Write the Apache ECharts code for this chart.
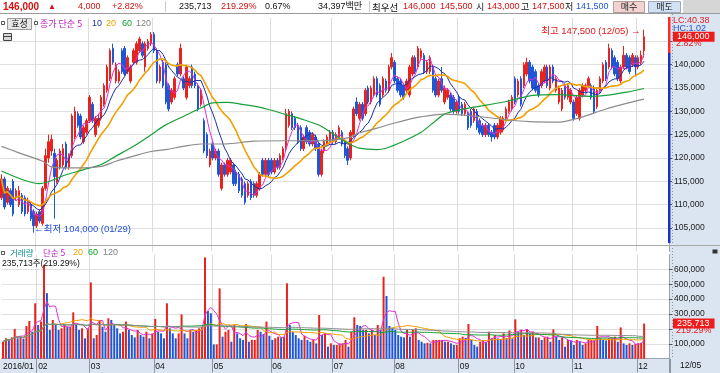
<!DOCTYPE html>
<html><head><meta charset="utf-8">
<script src="https://cdn.jsdelivr.net/npm/echarts@6/dist/echarts.min.js"></script>
<style>html,body{margin:0;padding:0;background:#fff}#c{width:720px;height:373px}</style>
</head><body><div id="c"></div>
<script>
// ---- trading days shown (2016/01/14 .. 2016/12/05) ----
const janDays=[14,15,18,19,20,21,22,25,26,27,28,29];
const febDays=[1,2,3,4,5,11,12,15,16,17,18,19,22,23,24,25,26,29];
const marDays=[2,3,4,7,8,9,10,11,14,15,16,17,18,21,22,23,24,25,28,29,30,31];
const aprDays=[1,4,5,6,7,8,11,12,14,15,18,19,20,21,22,25,26,27,28,29];
const mayDays=[2,3,4,9,10,11,12,13,16,17,18,19,20,23,24,25,26,27,30,31];
const junDays=[1,2,3,7,8,9,10,13,14,15,16,17,20,21,22,23,24,27,28,29,30];
const julDays=[1,4,5,6,7,8,11,12,13,14,15,18,19,20,21,22,25,26,27,28,29];
const augDays=[1,2,3,4,5,8,9,10,11,12,16,17,18,19,22,23,24,25,26,29,30,31];
const sepDays=[1,2,5,6,7,8,9,12,13,19,20,21,22,23,26,27,28,29,30];
const octDays=[4,5,6,7,10,11,12,13,14,17,18,19,20,21,24,25,26,27,28,31];
const novDays=[1,2,3,4,7,8,9,10,11,14,15,16,17,18,21,22,23,24,25,28,29,30];
const decDays=[1,2,5];
const monthDays=[janDays,febDays,marDays,aprDays,mayDays,junDays,julDays,augDays,sepDays,octDays,novDays,decDays];
const monthTickLabels=['2016/01','02','03','04','05','06','07','08','09','10','11','12'];
const emptySlots=8;

// ---- prices (won) ----
const opens=[
111500,115500,110500,113000,115000,111500,110000,112000,111500,108500,
110000,108500,105500,108500,106000,113500,120000,121500,121000,115000,
118000,118500,123000,118000,120500,124500,129500,129000,123500,125500,
128000,131500,125000,127000,128500,131500,134500,137000,143500,136500,
136500,143000,143500,138500,136500,140500,140500,143000,144500,139500,
143500,144500,146500,143000,136500,140500,140000,135500,132000,133000,
140000,138000,137000,133000,135500,139500,138000,135500,131500,128000,
125000,118500,123000,120000,121500,113500,118500,116500,117000,118500,
117000,116500,115500,114500,112000,115000,114500,112000,113500,119500,
116500,119500,119500,117000,119500,118000,120000,122000,127000,129500,
128500,127000,126500,122000,126500,125500,123000,124500,123000,116500,
121500,123000,123500,125500,123500,124500,125500,123500,122000,120000,
125000,132000,128500,131500,129500,135000,132000,133500,137000,135500,
133500,136500,134500,139500,140500,137000,136500,135500,134500,133500,
138000,141500,139500,141500,142000,138500,138500,139500,137000,133500,
137000,132000,133000,133500,133000,130000,133000,131500,129500,129500,
130000,128000,130000,128000,127000,125000,127000,125500,127000,124500,
125500,126000,128500,130000,130500,137000,133500,137000,135500,138000,
140500,139500,138500,135500,135500,136500,139500,135000,139500,134500,
132000,130500,135500,133000,132000,132000,129500,128500,133500,134500,
135500,135500,135000,131000,134500,136500,140500,139500,143000,141500,
140500,136500,139500,142000,141500,140000,141500,139500,140500,143000];
const closes=[
115500,109500,113500,110000,108000,113000,113000,108500,108000,110500,
107000,105500,108000,106500,113500,120500,123500,124000,116000,119500,
121500,122000,118000,120500,129000,130000,127000,124500,126500,128000,
133000,128000,128500,128500,133000,135500,139500,143000,140500,140000,
138500,138500,138000,141500,139500,143000,144500,145500,142000,144500,
145000,146500,143000,136500,139500,135500,132000,130500,134500,137000,
138000,143500,135000,139500,137000,135500,135500,130500,134500,121500,
120500,121500,120000,121500,116500,118500,116500,119500,119500,114500,
114500,113000,112000,110500,114500,111500,112000,114500,116500,116500,
119500,116500,117000,119500,118000,120500,122000,129500,130000,126500,
126500,123500,122000,124500,123500,123000,125000,122000,116500,121500,
123500,124500,125500,123500,125000,126500,123000,120500,119500,125500,
130500,129500,131500,128500,134500,132000,135000,137000,133500,131500,
137000,134500,139500,141500,136500,134500,133500,133000,136500,139500,
141500,138500,143500,143000,138500,140500,141500,134500,133500,136500,
134500,135000,134500,130500,130000,132000,130000,129500,131500,126500,
127000,130500,126500,125500,125000,127000,125000,124500,124500,127000,
128500,128500,130500,132000,133000,132000,136500,131500,140000,140500,
136500,135000,134500,133500,138500,139500,135500,139500,136500,137000,
135000,134500,133000,135500,134500,128500,133000,134500,135500,135500,
137000,133000,130000,134500,137000,140000,137000,143500,139500,138000,
137000,139500,142000,139500,138500,142000,139500,141500,142000,146000];
const lows=[
111000,109000,110000,109500,107500,111000,109500,108000,107500,108000,
106500,104000,105000,106000,105500,113000,119000,120500,107000,114500,
117500,118000,117500,117500,120000,124000,126500,124000,123000,125000,
127500,127500,124500,126500,128000,131000,134000,136500,140000,136000,
136000,138000,137500,138000,136000,140000,140000,142500,141500,138500,
143000,144000,142500,136000,136000,135000,131500,130000,131500,132500,
137500,137500,134500,132500,135000,135000,135000,130000,131000,121000,
120000,118000,119500,119500,116000,113000,116000,116000,116500,114000,
114000,112500,111500,110000,111500,111000,111500,111500,113000,116000,
116000,116000,116500,116500,117500,117500,119500,121500,126500,126000,
126000,123000,121500,121500,123000,122500,122500,121500,116000,116000,
121000,122500,123000,123000,123000,124000,122500,120000,118500,119500,
124500,129000,128000,128000,129000,131500,131500,133000,133000,131000,
133000,134000,134000,139000,136000,134000,133000,132500,134000,133000,
137500,138000,139000,141000,138000,138000,138000,134000,133000,133000,
134000,131500,132500,130000,129500,129500,129500,129000,129000,126000,
126500,127500,126000,125000,124500,124500,124500,123500,124000,124000,
125000,125500,128000,129500,130000,131500,133000,131000,135000,137500,
136000,134500,134000,133000,135000,136000,135000,134500,136000,134000,
131500,130000,132500,132500,131500,128000,129000,128000,133000,134000,
135000,132500,129500,130500,134000,136000,136500,139000,139000,137500,
136500,136000,139000,139000,138000,139500,137500,139000,140000,141500];
const highs=[
116500,116000,114000,113500,115500,113500,114000,112500,112000,111500,
110500,109000,108500,109000,114000,122000,125000,125000,122000,120000,
122000,123000,123500,121000,129500,131000,130000,129500,127000,128500,
133500,132000,129000,129500,133500,136000,140000,143500,144500,140500,
139000,143500,144000,142000,140000,143500,145000,146000,145000,145000,
145500,147000,147000,143500,140000,141000,140500,136000,135000,137500,
140500,144500,137500,140000,137500,140000,138500,136000,135000,128500,
125500,122000,123500,122000,122000,119000,119000,120000,120000,119000,
117500,117000,116000,115000,115000,115500,115000,115000,117000,120000,
120000,120000,120000,120000,120000,121000,122500,130500,130500,130000,
129000,127500,127000,125000,127000,126000,125500,125000,123500,122000,
124000,125000,126000,126000,125500,127000,126000,124000,122500,126000,
131000,133000,132000,132000,135000,135500,135500,137500,137500,136000,
137500,137000,140000,142500,141000,137500,137000,136000,137000,140000,
142000,142000,144000,143500,142500,141000,142000,140000,137500,137000,
139500,135500,135000,134000,133500,132500,133500,132000,132000,130000,
130500,131000,130500,128500,127500,127500,127500,126000,127500,127500,
129000,129000,131000,132500,133500,137500,137000,137500,140500,141500,
141000,140000,139000,136000,139000,140000,140000,140000,140000,137500,
135500,135000,136000,136000,135000,132500,133500,135000,136000,136000,
137500,136000,135500,135000,137500,140500,141000,144500,143500,142000,
141000,140000,144000,142500,142000,142500,142000,142000,143000,147500];
// ---- volume (shares) ----
const volumes=[
115000,137000,126000,143000,200000,137000,148000,135000,220000,253000,
181000,372000,226000,250000,630000,440000,193000,260000,226000,193000,
204000,226000,215000,215000,311000,226000,193000,204000,137000,204000,
512000,137000,159000,260000,215000,181000,271000,260000,226000,204000,
170000,181000,249000,193000,159000,143000,193000,159000,148000,181000,
137000,170000,267000,181000,170000,137000,372000,204000,170000,137000,
170000,298000,170000,137000,193000,181000,193000,204000,215000,680000,
320000,305000,96000,96000,472000,148000,181000,193000,114000,226000,
170000,137000,126000,233000,114000,126000,126000,193000,181000,165000,
249000,154000,126000,137000,148000,143000,148000,506000,226000,181000,
159000,137000,126000,154000,126000,114000,126000,103000,293000,159000,
170000,81000,103000,92000,92000,103000,103000,126000,81000,181000,
278000,226000,220000,193000,193000,170000,193000,159000,226000,193000,
550000,421000,220000,204000,193000,159000,148000,143000,193000,148000,
193000,204000,126000,114000,103000,107000,103000,126000,126000,126000,
126000,114000,114000,103000,92000,92000,137000,148000,140000,233000,
126000,92000,81000,114000,126000,114000,181000,137000,159000,137000,
133000,170000,137000,190000,137000,264000,181000,193000,159000,197000,
170000,181000,143000,143000,126000,143000,148000,114000,197000,148000,
126000,143000,81000,126000,122000,92000,126000,114000,92000,103000,
126000,126000,126000,220000,137000,126000,122000,137000,143000,148000,
114000,210000,103000,92000,103000,92000,98000,103000,107500,235713];
// ---- long moving averages: [day index, value] ----
const ma60Read=[[0,117200],[7,115400],[13,114500],[22,116400],[28,117500],[34,118600],[39,120400],[45,122500],[51,125000],[56,127100],[62,128900],[68,130700],[72,131800],[77,131900],[81,131600],[86,131100],[91,130400],[97,129300],[103,128200],[109,126800],[114,124700],[118,123200],[122,122100],[128,121800],[131,122100],[137,123600],[143,125500],[148,128000],[151,129400],[156,130300],[161,130900],[172,132100],[181,133400],[189,133600],[201,133200],[206,133400],[213,134100],[219,134900]];
const ma120Read=[[0,122500],[6,121100],[14,119300],[17,118100],[22,117900],[28,117900],[34,118200],[39,119300],[45,120400],[51,121400],[56,121800],[62,122500],[68,123000],[76,123000],[86,123600],[97,123700],[109,123700],[118,124300],[122,125400],[128,126400],[134,127500],[141,128600],[147,129200],[151,129400],[161,129000],[172,128200],[180,127800],[190,127700],[197,128600],[206,130500],[213,131700],[219,132600]];
const lastPrice=146000, lastVolume=235713;

// ---- build ----
const cats=[], monthLabelAt={};
monthDays.forEach((days,m)=>{days.forEach((d,k)=>{if(k===0)monthLabelAt[cats.length]=monthTickLabels[m];cats.push(String(m+1).padStart(2,'0')+'/'+String(d).padStart(2,'0'));});});
for(let k=0;k<emptySlots;k++)cats.push('pad'+k);
function ma(arr,n){return arr.map((_,i)=>{const s=Math.max(0,i-n+1);let t=0;for(let j=s;j<=i;j++)t+=arr[j];return Math.round(t/(i-s+1));});}
const RED='#e8231e', BLUE='#1f56d8';
const candle=opens.map((o,i)=>[o,closes[i],lows[i],highs[i]]);
const volData=volumes.map((v,i)=>({value:v,itemStyle:{color:(i===0||v>=volumes[i-1])?RED:BLUE}}));
const FN="'Liberation Sans','Noto Sans CJK KR',sans-serif";
const FK="'Noto Sans CJK KR',sans-serif";
const fmt=v=>v.toLocaleString('en-US');
const isMonth=i=>monthLabelAt[i]!==undefined;
const T=(x,y,text,fill,size,extra,fam)=>Object.assign({type:'text',x:x,y:y,z:20,style:{text:text,fill:fill,font:(size||9)+'px '+(fam||FN),verticalAlign:'middle',align:'left'}},extra||{});
const R=(x,y,w,h,fill,stroke,z)=>({type:'rect',shape:{x:x,y:y,width:w,height:h},z:z===undefined?-10:z,style:{fill:fill,stroke:stroke||null,lineWidth:1}});
const L=(x1,y1,x2,y2,stroke,z,dash)=>({type:'line',shape:{x1:x1,y1:y1,x2:x2,y2:y2},z:z===undefined?15:z,style:{stroke:stroke,lineWidth:1,lineDash:dash||null}});
const HS=9;
const graphics=[
  // header
  R(0,0,720,13.5,'#ffffff'), R(683,0,37,13.5,'#d6d6d6'),
  L(0,13.5,720,13.5,'#9a9a9a'), L(165.5,1,165.5,12,'#c8c8c8'), L(369.5,1,369.5,12,'#c8c8c8'),
  {type:'text',x:3,y:7,z:20,style:{text:'146,000',fill:'#d41010',font:'bold 10px '+FN,verticalAlign:'middle'}},
  T(48,7,'▲','#d41010',8), T(78,7,'4,000','#d41010',HS), T(112,7,'+2.82%','#d41010',HS),
  T(179,7,'235,713','#111',HS), T(221,7,'219.29%','#d41010',HS), T(265,7,'0.67%','#111',HS), T(318,7,'34,397백만','#111',HS),
  T(372,7,'최우선','#111',9.5,null,FK), T(403,7,'146,000','#d41010',HS), T(440,7,'145,500','#d41010',HS), T(476,7,'시','#111',9,null,FK),
  T(487,7,'143,000','#d41010',HS), T(521,7,'고','#111',9,null,FK), T(532,7,'147,500','#d41010',HS), T(565,7,'저','#111',9,null,FK),
  T(576,7,'141,500','#1f56d8',HS),
  R(613.5,1.5,31,11,'#f3d2d2','#b89a9a',1), {type:'text',x:629,y:7,z:20,style:{text:'매수',fill:'#222',font:'9px '+FK,verticalAlign:'middle',align:'center'}},
  R(648.5,1.5,32,11,'#d2e2f4','#9aa8ba',1), {type:'text',x:664.5,y:7,z:20,style:{text:'매도',fill:'#222',font:'9px '+FK,verticalAlign:'middle',align:'center'}},
  // right panel & bottom row backgrounds
  R(670,14,50,345,'#dbe5f1'), R(0,359,720,14,'#dbe5f1'),
  L(672.5,14,672.5,359,'#8a94a2',1,[1,2]), L(670.5,359,670.5,373,'#8a94a2',16),
  // price / volume separator
  L(0,245.5,720,245.5,'#a8a8a8',16),
  // range bar at right edge of price panel
  R(668,17,2.5,36,'#ff2a2a',null,16), R(668,53,2.5,190,'#1a34c0',null,16),
  // price legend
  R(1.5,21.5,3,3,'#fff','#555',20), R(7.5,18.5,24,11,'#e6e6e6','#9a9a9a',19),
  {type:'text',x:19.5,y:24,z:20,style:{text:'효성',fill:'#111',font:'9px '+FK,verticalAlign:'middle',align:'center'}},
  R(34.5,21.5,3,3,'#fff','#555',20),
  T(40,24,'종가 단순 5','#c018c0',9,null,FK),
  T(92,24,'10','#1c2fa8',9), T(106,24,'20','#f0a000',9), T(122,24,'60','#10a030',9), T(136,24,'120','#808080',9),
  R(3.5,33.5,8,7,'#d8d8d8','#444',20), L(3.5,36.5,11.5,36.5,'#444',21),
  // right panel texts
  T(673,21,'LC:40.38','#e02020',9), T(673,29,'HC:1.02','#2050d0',9,{z:-1}), T(676,44,'2.82%','#e02020',9),
  T(676,331,'219.29%','#e02020',9),
  R(712.5,249.5,5,4,'#333',null,20),
  // volume legend
  R(1.5,251.5,3,3,'#fff','#555',20),
  T(10,253,'거래량','#109090',8.5,null,FK), T(43,253,'단순 5','#c018c0',8.5,null,FK),
  T(73,253,'20','#f0a000',9), T(88,253,'60','#10a030',9), T(103,253,'120','#808080',9),
  T(2,264,'235,713주(219.29%)','#111',8.5),
  T(680,366,'12/05','#111',8.5)
];
const AX={fontSize:8.5,fontFamily:FN,color:'#222'};
const option={
  animation:false,
  backgroundColor:'#ffffff',
  grid:[{left:0,top:18,width:669,height:233.33},{left:0,top:254.4,width:669,height:104.3}],
  xAxis:[
    {type:'category',gridIndex:0,data:cats,boundaryGap:true,axisLine:{show:false},axisTick:{show:false},axisLabel:{show:false},
     splitLine:{show:true,interval:(i)=>i>0&&isMonth(i),lineStyle:{color:'#dcdcdc'}}},
    {type:'category',gridIndex:1,data:cats,boundaryGap:true,axisLine:{show:true,lineStyle:{color:'#9aa4b2'}},
     axisTick:{show:true,interval:(i)=>i>0&&isMonth(i),length:14,lineStyle:{color:'#8a94a2'}},
     axisLabel:Object.assign({show:true,showMinLabel:true,interval:(i)=>isMonth(i),formatter:(v,i)=>monthLabelAt[i]||'',align:'left',margin:3.5},AX,{color:'#111'}),
     splitLine:{show:true,interval:(i)=>i>0&&isMonth(i),lineStyle:{color:'#dcdcdc'}}}
  ],
  yAxis:[
    {type:'value',gridIndex:0,position:'right',min:100000,max:150000,interval:5000,
     axisLine:{show:true,lineStyle:{color:'#9aa4b2'}},axisTick:{show:true,length:3,lineStyle:{color:'#555'}},
     axisLabel:Object.assign({showMinLabel:false,showMaxLabel:false,margin:5,formatter:v=>v===145000?'':fmt(v)},AX),
     splitLine:{show:true,showMinLine:false,showMaxLine:false,lineStyle:{color:'#e0e0e0'}}},
    {type:'value',gridIndex:1,position:'right',min:0,max:700000,interval:100000,
     axisLine:{show:true,lineStyle:{color:'#9aa4b2'}},axisTick:{show:true,length:3,lineStyle:{color:'#555'}},
     axisLabel:Object.assign({showMinLabel:false,showMaxLabel:false,margin:5,formatter:v=>v===200000?'':fmt(v)},AX),
     splitLine:{show:true,showMinLine:false,showMaxLine:false,lineStyle:{color:'#e0e0e0'}}}
  ],
  graphic:graphics,
  series:[
    {type:'candlestick',xAxisIndex:0,yAxisIndex:0,data:candle,barWidth:2,z:3,
     itemStyle:{color:RED,color0:BLUE,borderColor:RED,borderColor0:BLUE,borderWidth:1},
     markLine:{silent:true,symbol:'none',data:[{yAxis:lastPrice}],lineStyle:{color:'rgba(0,0,0,0)',width:0},
       label:{show:true,position:'end',distance:4,formatter:fmt(lastPrice),backgroundColor:'#ee1c1c',color:'#fff',padding:[1,5,0,4],fontSize:9,fontFamily:FN}},
     markPoint:{silent:true,symbol:'circle',symbolSize:1,itemStyle:{color:'rgba(0,0,0,0)'},
       data:[
         {coord:[219,highs[219]],label:{show:true,position:'left',distance:3,offset:[0,2],formatter:'최고 147,500 (12/05) →',color:'#e01818',fontSize:9.5,fontFamily:FN}},
         {coord:[11,lows[11]],label:{show:true,position:'right',distance:0,offset:[0,-3],formatter:'←최저 104,000 (01/29)',color:'#1f4fd0',fontSize:9.5,fontFamily:FN}}
       ]}},
    {type:'line',xAxisIndex:0,yAxisIndex:0,data:ma(closes,5),symbol:'none',lineStyle:{color:'#e030d8',width:1},z:4},
    {type:'line',xAxisIndex:0,yAxisIndex:0,data:ma(closes,10),symbol:'none',lineStyle:{color:'#1c2fa8',width:1},z:4},
    {type:'line',xAxisIndex:0,yAxisIndex:0,data:ma(closes,20),symbol:'none',lineStyle:{color:'#f0a000',width:1.6},z:4},
    {type:'line',xAxisIndex:0,yAxisIndex:0,data:ma60Read,symbol:'none',smooth:0.3,lineStyle:{color:'#18a038',width:1.2},z:4},
    {type:'line',xAxisIndex:0,yAxisIndex:0,data:ma120Read,symbol:'none',smooth:0.3,lineStyle:{color:'#8c8c8c',width:1.2},z:4},
    {type:'bar',xAxisIndex:1,yAxisIndex:1,data:volData,barWidth:2,z:3,
     markLine:{silent:true,symbol:'none',data:[{yAxis:lastVolume}],lineStyle:{color:'rgba(0,0,0,0)',width:0},
       label:{show:true,position:'end',distance:4,formatter:fmt(lastVolume),backgroundColor:'#ee1c1c',color:'#fff',padding:[1,5,0,4],fontSize:9,fontFamily:FN}}},
    {type:'line',xAxisIndex:1,yAxisIndex:1,data:ma(volumes,5),symbol:'none',lineStyle:{color:'#e030d8',width:1},z:4},
    {type:'line',xAxisIndex:1,yAxisIndex:1,data:ma(volumes,20),symbol:'none',lineStyle:{color:'#f0a000',width:1},z:4},
    {type:'line',xAxisIndex:1,yAxisIndex:1,data:ma(volumes,60),symbol:'none',lineStyle:{color:'#18a038',width:1},z:4},
    {type:'line',xAxisIndex:1,yAxisIndex:1,data:ma(volumes,120),symbol:'none',lineStyle:{color:'#8c8c8c',width:1},z:4}
  ]
};
const chart=echarts.init(document.getElementById('c'),null,{renderer:'canvas'});
chart.setOption(option);
</script></body></html>
